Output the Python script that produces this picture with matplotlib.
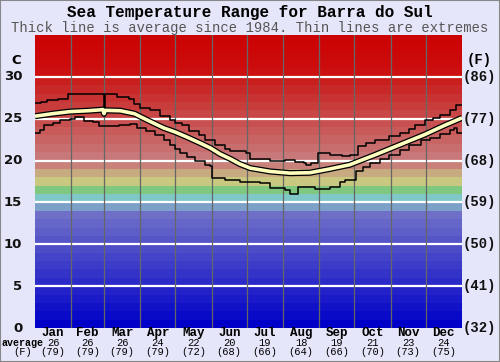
import numpy as np
import matplotlib
matplotlib.use("Agg")
import matplotlib.pyplot as plt

# ---- data (day of year -> deg C) ----
avg_day = [0, 15, 30, 45, 55, 58, 59, 60, 73, 85, 90, 98, 110, 120, 130, 141, 150,
           158, 167, 175, 184, 201, 218, 235, 252, 269, 291, 312, 333, 350, 365]
avg_temp = [25.3, 25.6, 25.85, 25.95, 26.05, 26.1, 25.6, 26.0, 25.95, 25.6, 25.25, 24.7,
            23.9, 23.4, 22.8, 22.1, 21.5, 20.8, 20.2, 19.6, 19.1, 18.7, 18.5, 18.55,
            19.0, 19.5, 20.7, 21.9, 23.1, 24.2, 25.1]

max_day = [0, 5, 10, 20, 28, 35, 50, 58, 59, 60, 70, 80, 85, 90, 98, 107, 115, 120, 126,
           132, 140, 145, 154, 162, 167, 180, 184, 201, 214, 222, 230, 232, 236, 242, 252,
           262, 269, 276, 283, 291, 303, 312, 320, 325, 333, 340, 346, 355, 360, 365]
max_temp = [26.9, 27.0, 27.2, 27.4, 27.9, 28.0, 28.0, 28.0, 25.3, 27.9, 27.6, 27.3, 26.8,
            26.3, 26.0, 25.3, 24.9, 24.5, 24.2, 23.5, 23.0, 22.5, 21.9, 21.4, 21.1, 20.9,
            20.2, 19.9, 20.1, 19.8, 19.7, 19.5, 19.7, 20.9, 20.7, 20.5, 20.7, 21.7, 22.1,
            22.5, 22.9, 23.3, 23.8, 24.25, 24.85, 25.1, 25.45, 26.05, 26.6, 26.6]

min_day = [0, 4, 8, 15, 21, 30, 34, 40, 42, 50, 55, 72, 81, 87, 95, 103, 110, 115, 120,
           124, 130, 137, 145, 150, 151, 162, 175, 192, 201, 214, 218, 225, 239, 252, 261,
           265, 274, 280, 286, 295, 303, 312, 320, 330, 338, 346, 355, 358, 361, 365]
min_temp = [23.3, 23.7, 24.2, 24.5, 24.85, 25.0, 25.2, 25.2, 24.7, 24.6, 24.1, 24.2, 24.4,
            23.85, 23.5, 23.05, 22.5, 21.9, 21.4, 20.9, 20.4, 19.9, 19.5, 19.3, 17.9, 17.7,
            17.5, 17.3, 16.7, 16.5, 16.0, 16.8, 16.6, 16.9, 17.5, 17.7, 18.7, 19.2, 19.7,
            20.2, 20.7, 21.3, 21.9, 22.4, 22.7, 23.2, 23.65, 23.9, 23.3, 23.3]

months = ["Jan", "Feb", "Mar", "Apr", "May", "Jun", "Jul", "Aug", "Sep", "Oct", "Nov", "Dec"]
month_avg_c = [26, 26, 26, 24, 22, 20, 19, 18, 19, 21, 23, 24]
month_avg_f = [79, 79, 79, 79, 72, 68, 66, 64, 66, 70, 73, 75]
month_days = [31, 28, 31, 30, 31, 30, 31, 31, 30, 31, 30, 31]

c_ticks = [0, 5, 10, 15, 20, 25, 30]
f_ticks = [32, 41, 50, 59, 68, 77, 86]

BG = "#e6e6fa"
MONO = ["Liberation Mono", "DejaVu Sans Mono"]


def band_colours():
    cols = []
    for i in range(35):
        if i < 14:
            v = i * 8.5
            cols.append((v, v, 200))
        elif i < 20:
            cols.append([(125, 160, 200), (128, 200, 200), (128, 200, 128),
                         (200, 200, 128), (200, 170, 128), (200, 130, 122)][i - 14])
        elif i < 30:
            v = 120 - (i - 20) * 10
            cols.append((200, v, v))
        else:
            v = 15 - (i - 30) * 3
            cols.append((204, v, v))
    return [tuple(c / 255 for c in col) for col in cols]


fig = plt.figure(figsize=(5.0, 3.62), dpi=100, facecolor=BG)
ax = fig.add_axes([0.07, 0.0939, 0.854, 0.8094])
ax.set_facecolor(BG)

for i, col in enumerate(band_colours()):
    ax.axhspan(i, i + 1, color=col, lw=0)

for t in c_ticks[1:]:
    ax.axhline(t, color="white", lw=1.6, zorder=2)

edges = np.concatenate([[0], np.cumsum(month_days)])
for e in edges[1:-1]:
    ax.axvline(e, color="#666666", lw=0.9, zorder=2)

ax.step(max_day, max_temp, where="post", color="black", lw=1.1, zorder=3)
ax.step(min_day, min_temp, where="post", color="black", lw=1.1, zorder=3)
ax.plot(avg_day, avg_temp, color="black", lw=4.4, zorder=4, solid_capstyle="butt")
ax.plot(avg_day, avg_temp, color="#ffffc0", lw=2.6, zorder=5, solid_capstyle="butt")

ax.set_xlim(0, 365)
ax.set_ylim(0, 35)
ax.set_xticks([])
ax.set_yticks([])
for s in ax.spines.values():
    s.set_visible(False)

# axis labels drawn as text in data coords
for c, f in zip(c_ticks, f_ticks):
    ax.text(-11, c, str(c), ha="right", va="center", fontsize=9.5, fontweight="bold",
            color="#111111", family="DejaVu Sans")
    ax.text(380, c, f"({f})", ha="center", va="center", fontsize=10, fontweight="bold",
            color="#111111", family=MONO)
ax.text(-16, 32, "C", ha="center", va="center", fontsize=9.5, fontweight="bold",
        family="DejaVu Sans")
ax.text(380, 32, "(F)", ha="center", va="center", fontsize=10, fontweight="bold",
        family=MONO)

centres = (edges[:-1] + edges[1:]) / 2
for m, c, f, x in zip(months, month_avg_c, month_avg_f, centres):
    ax.text(x, -0.62, m, ha="center", va="center", fontsize=9, fontweight="bold",
            family=MONO)
    ax.text(x, -1.8, str(c), ha="center", va="center", fontsize=7.5, family=MONO)
    ax.text(x, -2.85, f"({f})", ha="center", va="center", fontsize=7.5, family=MONO)
ax.text(-11, -1.8, "average", ha="center", va="center", fontsize=7.2, fontweight="bold",
        family=MONO)
ax.text(-11, -2.85, "(F)", ha="center", va="center", fontsize=7.5, family=MONO)

fig.text(0.5, 0.966, "Sea Temperature Range for Barra do Sul", ha="center", va="center",
         fontsize=11.5, fontweight="bold", family=MONO)
fig.text(0.5, 0.922, "Thick line is average since 1984. Thin lines are extremes",
         ha="center", va="center", fontsize=10, color="#555555", family=MONO)

fig.patches.append(plt.Rectangle((0, 0), 1, 1, transform=fig.transFigure, fill=False,
                                 edgecolor="#888888", lw=1.5))

fig.savefig("out.png", dpi=100, facecolor=BG)
